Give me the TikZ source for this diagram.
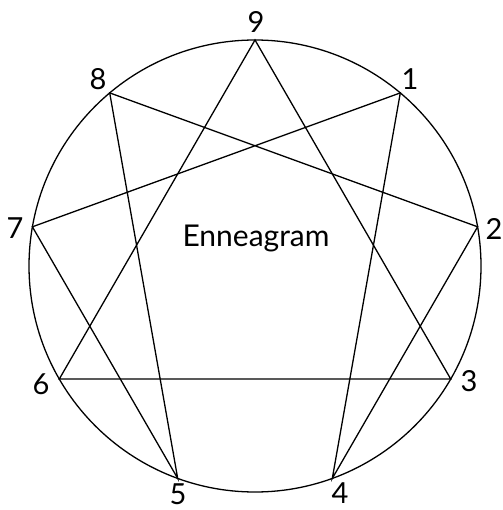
\documentclass[tikz,border=0pt]{standalone}
\usepackage{fontspec}
\setmainfont{Lato}
\begin{document}
\begin{tikzpicture}[x=1pt,y=-1pt,line width=1.3pt,
  lbl/.style={font=\fontsize{29}{32}\selectfont,inner sep=0pt},
  ttl/.style={font=\fontsize{30}{33}\selectfont,inner sep=0pt}]
\useasboundingbox (0,0) rectangle (502,510);
\coordinate (c) at (255,266);
\draw (c) circle[radius=226];
\coordinate (p9) at (255,40);
\coordinate (p1) at (400.3,92.9);
\coordinate (p2) at (477.6,226.8);
\coordinate (p3) at (450.7,379);
\coordinate (p4) at (332.3,478.4);
\coordinate (p5) at (177.7,478.4);
\coordinate (p6) at (59.3,379);
\coordinate (p7) at (32.4,226.8);
\coordinate (p8) at (109.7,92.9);
\draw (p9) -- (p3) -- (p6) -- cycle;
\draw (p1) -- (p4) -- (p2) -- (p8) -- (p5) -- (p7) -- cycle;
\node[lbl] (l9) at (256,22) {9};
\node[lbl] (l1) at (410,79) {1};
\node[lbl] (l2) at (494,229) {2};
\node[lbl] (l3) at (469,381) {3};
\node[lbl] (l4) at (340,493) {4};
\node[lbl] (l5) at (178,494) {5};
\node[lbl] (l6) at (41,384) {6};
\node[lbl] (l7) at (15,228) {7};
\node[lbl] (l8) at (98,79) {8};
\node[ttl] (t) at (256,238) {Enneagram};
\end{tikzpicture}
\end{document}
